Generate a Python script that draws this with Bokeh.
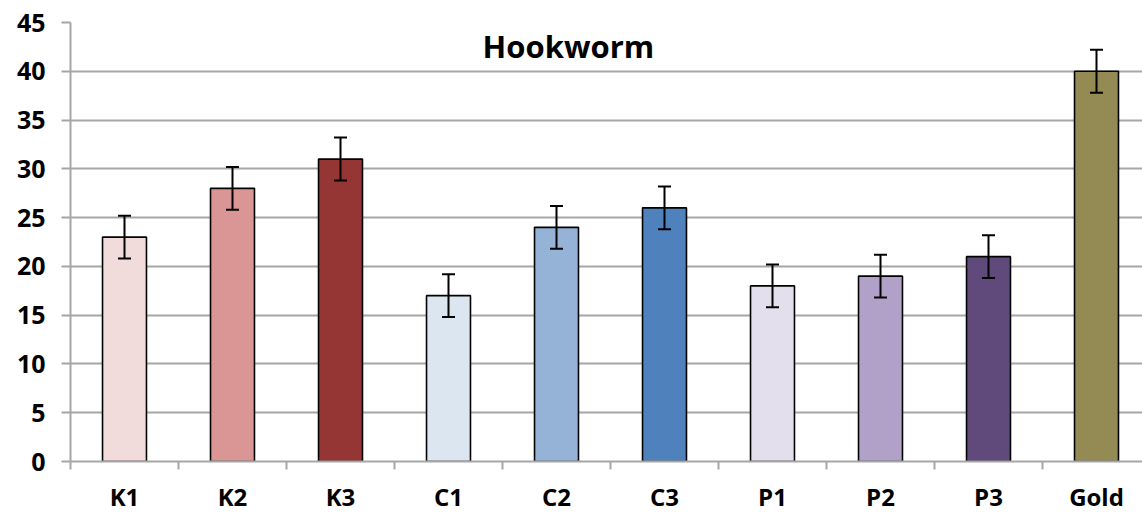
from bokeh.plotting import figure
from bokeh.models import (Range1d, FixedTicker, ColumnDataSource, Whisker, TeeHead, Label)
from bokeh.embed import file_html
from bokeh.resources import INLINE

categories = ["K1", "K2", "K3", "C1", "C2", "C3", "P1", "P2", "P3", "Gold"]
values = [23, 28, 31, 17, 24, 26, 18, 19, 21, 40]
errors = [2.2, 2.2, 2.2, 2.2, 2.2, 2.2, 2.2, 2.2, 2.2, 2.2]
colors = ["#F2DCDB", "#DA9694", "#963634", "#DCE6F1", "#95B3D7", "#4F81BD",
          "#E4DFEC", "#B1A0C7", "#604A7B", "#948A54"]
y_ticks = [0, 5, 10, 15, 20, 25, 30, 35, 40, 45]
title_text = "Hookworm"

FONT = "Open Sans"
GRID = "#A6A6A6"

xs = [i + 0.5 for i in range(len(categories))]
source = ColumnDataSource(dict(
    x=xs, top=values, color=colors,
    upper=[v + e for v, e in zip(values, errors)],
    lower=[v - e for v, e in zip(values, errors)],
))

p = figure(frame_width=1072, frame_height=439,
           x_range=Range1d(0, 1072 / 108), y_range=Range1d(0, 45),
           output_backend="svg", toolbar_location=None,
           min_border_left=70, min_border_top=22, min_border_right=0, min_border_bottom=40)
p.outline_line_color = None
p.background_fill_color = "white"

p.vbar(x="x", top="top", width=0.407, bottom=0, source=source,
       fill_color="color", line_color="black", line_width=1.6)

w = Whisker(base="x", upper="upper", lower="lower", source=source,
            line_color="black", line_width=2, level="overlay",
            upper_head=TeeHead(size=13, line_color="black", line_width=2),
            lower_head=TeeHead(size=13, line_color="black", line_width=2))
p.add_layout(w)

# y axis
p.yaxis.ticker = FixedTicker(ticks=y_ticks)
p.yaxis.axis_line_color = GRID
p.yaxis.axis_line_width = 2
p.yaxis.major_tick_line_color = GRID
p.yaxis.major_tick_line_width = 2
p.yaxis.major_tick_out = 9
p.yaxis.major_tick_in = 0
p.yaxis.minor_tick_line_color = None
p.yaxis.major_label_text_font = FONT
p.yaxis.major_label_text_font_style = "bold"
p.yaxis.major_label_text_font_size = "25px"
p.yaxis.major_label_text_color = "black"
p.yaxis.major_label_standoff = 16

# x axis
p.xaxis.ticker = FixedTicker(ticks=xs, minor_ticks=list(range(len(categories) + 1)))
p.xaxis.major_label_overrides = {x: c for x, c in zip(xs, categories)}
p.xaxis.axis_line_color = GRID
p.xaxis.axis_line_width = 2
p.xaxis.major_tick_line_color = None
p.xaxis.major_tick_out = 0
p.xaxis.major_tick_in = 0
p.xaxis.minor_tick_line_color = GRID
p.xaxis.minor_tick_line_width = 2
p.xaxis.minor_tick_out = 8
p.xaxis.minor_tick_in = 0
p.xaxis.major_label_text_font = FONT
p.xaxis.major_label_text_font_style = "bold"
p.xaxis.major_label_text_font_size = "24px"
p.xaxis.major_label_text_color = "black"
p.xaxis.major_label_standoff = 10

p.xgrid.grid_line_color = None
p.ygrid.ticker = FixedTicker(ticks=y_ticks)
p.ygrid.grid_line_color = GRID
p.ygrid.grid_line_width = 2

p.add_layout(Label(x=4.61, y=42.6, text=title_text, text_align="center",
                   text_baseline="middle", text_font=FONT, text_font_style="bold",
                   text_font_size="31px", text_color="black"))

open("out.html", "w").write(file_html(p, INLINE))
